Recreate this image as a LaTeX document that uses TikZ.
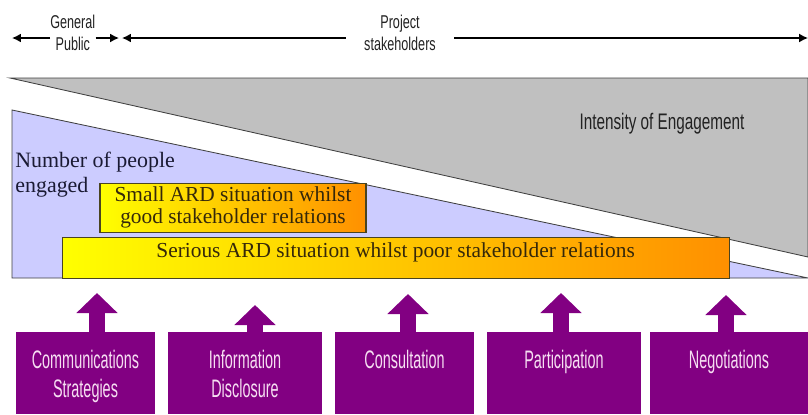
\documentclass[tikz,border=0pt]{standalone}
\usepackage{fontspec}
\setmainfont{Liberation Serif}
\newfontfamily\narrowsans[FakeStretch=0.68]{Liberation Sans}
\newfontfamily\boxsans[FakeStretch=0.57]{Liberation Sans}
\usetikzlibrary{arrows.meta}
\definecolor{intensitygray}{HTML}{C0C0C0}
\definecolor{peopleblue}{HTML}{CCCCFF}
\definecolor{edgegray}{HTML}{404040}
\definecolor{labelgray}{HTML}{222222}
\definecolor{peopletext}{HTML}{1A1A33}
\definecolor{ardyellow}{HTML}{FFFF00}
\definecolor{ardgold}{HTML}{FFCC00}
\definecolor{ardorange}{HTML}{FF9000}
\definecolor{ardedge}{HTML}{4A4420}
\definecolor{ardtext}{HTML}{35280A}
\definecolor{toolpurple}{HTML}{820082}
\definecolor{toolpink}{HTML}{F6DEF2}
\tikzset{
  rangearrow/.style={draw=black, -{Latex[length=2.2mm,width=2.2mm]}, line width=1pt},
  wedge/.style={draw=edgegray, line width=0.6pt},
  toplabel/.style={
    text=labelgray,
    align=center,
    font=\narrowsans\fontsize{13.2}{15.5}\selectfont,
    inner ysep=1pt
  },
  ardbox/.style={
    draw=ardedge,
    line width=0.8pt,
    align=center,
    text=ardtext,
    font=\fontsize{15.2}{15.6}\selectfont,
    inner sep=0pt
  },
  toolbox/.style={
    fill=toolpurple,
    text=toolpink,
    align=center,
    font=\boxsans\fontsize{18}{21}\selectfont,
    inner sep=0pt,
    text height=0.9cm,
    text depth=1.15cm,
    anchor=north
  },
  toolarrow/.style={draw=toolpurple, line width=0.4cm, -{Triangle[length=0.5cm,width=1.0cm]}}
}
\begin{document}
\begin{tikzpicture}[x=1cm,y=1cm]
  \path[use as bounding box] (0,0) rectangle (20.2,10.35);

  \draw[wedge, fill=intensitygray] (0.25,8.4) -- (20.2,8.4) -- (20.2,3.925) -- cycle;
  \draw[wedge, fill=peopleblue] (0.3,7.6) -- (0.3,3.4) -- (20.2,3.4) -- cycle;

  \node[toplabel, inner xsep=0pt] (public) at (1.82,9.52) {General\\Public};
  \node[toplabel, inner xsep=0.45cm] (stake) at (10.0,9.52) {Project\\stakeholders};
  \coordinate (publicend) at (0.3,9.4);
  \coordinate (publicmeet) at (2.975,9.4);
  \coordinate (stakemeet) at (3.05,9.4);
  \coordinate (stakeend) at (20.2,9.4);

  \draw[rangearrow] (public.west |- publicend) -- (publicend);
  \draw[rangearrow] (public.east |- publicmeet) -- (publicmeet);
  \draw[rangearrow] (stake.west |- stakemeet) -- (stakemeet);
  \draw[rangearrow] (stake.east |- stakeend) -- (stakeend);

  \node[font=\narrowsans\fontsize{16}{18}\selectfont, text=labelgray] (intensity) at (16.55,7.25)
    {Intensity of Engagement};
  \node[anchor=west, align=left, text=peopletext, font=\fontsize{15.6}{17.8}\selectfont] (people) at (0.26,5.98)
    {Number of people\\engaged};

  \node[ardbox, minimum width=6.65cm, minimum height=1.225cm,
    left color=ardyellow, right color=ardorange] (small) at (5.825,5.16)
    {Small ARD situation whilst\\good stakeholder relations};
  \node[ardbox, minimum width=16.675cm, minimum height=1.025cm, text depth=0.4cm,
    left color=ardyellow, middle color=ardgold, right color=ardorange] (serious) at (9.89,3.89)
    {Serious ARD situation whilst poor stakeholder relations};

  \node[toolbox, text width=3.475cm] (comm) at (2.1375,2.05) {Communications\\Strategies};
  \node[toolbox, text width=3.85cm] (info) at (6.125,2.05) {Information\\Disclosure};
  \node[toolbox, text width=3.475cm] (consult) at (10.1125,2.05) {Consultation};
  \node[toolbox, text width=3.85cm] (partic) at (14.1,2.05) {Participation};
  \node[toolbox, text width=3.95cm] (negot) at (18.225,2.05) {Negotiations};

  \coordinate (commtip) at (2.425,3.025);
  \coordinate (infotip) at (6.375,2.725);
  \coordinate (consulttip) at (10.2,3.0);
  \coordinate (partictip) at (14.025,3.025);
  \coordinate (negottip) at (18.15,2.975);

  \draw[toolarrow] (commtip |- comm.north) -- (commtip);
  \draw[toolarrow] (infotip |- info.north) -- (infotip);
  \draw[toolarrow] (consulttip |- consult.north) -- (consulttip);
  \draw[toolarrow] (partictip |- partic.north) -- (partictip);
  \draw[toolarrow] (negottip |- negot.north) -- (negottip);
\end{tikzpicture}
\end{document}
